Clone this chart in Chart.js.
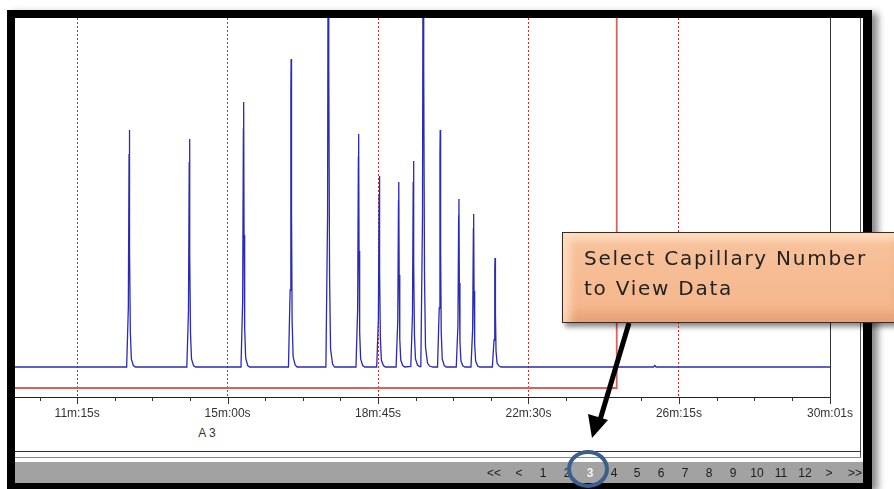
<!DOCTYPE html>
<html lang="en">
<head>
  <meta charset="UTF-8">
  <title>Capillary trace</title>
  <script src="https://cdn.jsdelivr.net/npm/chart.js@4.4.1/dist/chart.umd.min.js"></script>
  <style>
    body { margin: 0; width: 894px; height: 489px; overflow: hidden; position: relative; background: #fff; font-family: 'Liberation Sans', sans-serif; }
    #frame { position: absolute; left: 7px; top: 10px; width: 865px; height: 479px; background: #000; box-shadow: 6px 3px 7px rgba(0,0,0,0.45); }
    #panel { position: absolute; left: 15px; top: 18px; width: 848px; height: 444px; background: #fff; }
    #panelEdge { position: absolute; left: 860px; top: 18px; width: 1px; height: 440px; background: #555; }
    #line1 { position: absolute; left: 15px; top: 451px; width: 846px; height: 1px; background: #333; }
    #line2 { position: absolute; left: 15px; top: 457px; width: 846px; height: 1px; background: #888; }
    #pager { position: absolute; left: 15px; top: 462px; width: 848px; height: 21px; background: #a2a2a2; }
    .pg { position: absolute; top: 464px; font-size: 12px; color: #1c1c1c; transform: translateX(-50%); line-height: 18px; }
    #cap { position: absolute; left: 207px; top: 426px; font-size: 12px; color: #333; transform: translateX(-50%); }
    canvas { position: absolute; left: 0; top: 0; }
    #callout { position: absolute; left: 562px; top: 232px; width: 345px; height: 89px; border: 1px solid #3b2a20;
      background: linear-gradient(180deg, #f8c39c 0%, #f4b48a 100%);
      box-shadow: 3px 4px 5px rgba(0,0,0,0.45), inset 7px 7px 9px rgba(255,230,205,0.75), inset -10px -9px 10px rgba(205,125,75,0.35); }
    #callout div { position: absolute; left: 21px; font-family: 'DejaVu Sans', sans-serif; font-size: 20px; letter-spacing: 1.75px; color: #222; white-space: nowrap; }
    #ring { position: absolute; left: 567px; top: 450px; width: 34px; height: 30px; border: 4px solid #3a5f8d; border-radius: 50%; }
    svg { position: absolute; left: 0; top: 0; }
  </style>
</head>
<body>
  <div id="frame"></div>
  <div id="panel"></div>
  <div id="panelEdge"></div>
  <div id="line1"></div>
  <div id="line2"></div>
  <div id="pager"></div>
  <div id="cap">A 3</div>
  <canvas id="trace" width="894" height="489"></canvas>
  <div id="pages"></div>
  <div id="ring"></div>
  <svg width="894" height="489">
    <line x1="629" y1="323" x2="600" y2="420" stroke="#000" stroke-width="5"/>
    <polygon points="592,438 588,414 608,420" fill="#000"/>
  </svg>
  <div id="callout">
    <div style="top:13px">Select Capillary Number</div>
    <div style="top:43px">to View Data</div>
  </div>

  <script>
    // run time in seconds, signal in arbitrary units (baseline = 0)
    const traceTime = [582,
      749, 751.5, 752.6, 753, 753.6, 754.5, 756, 759, 762,
      839, 841.5, 842.6, 843, 843.6, 844.5, 846, 849, 852,
      920, 922.5, 923.6, 924, 924.6, 925.5, 927, 930, 933,
      991, 993.5, 994.6, 995, 995.6, 996.5, 998, 1001, 1004,
      1047, 1049.5, 1050.6, 1051, 1051.6, 1052.5, 1054, 1057, 1060,
      1092, 1094.5, 1095.6, 1096, 1096.6, 1097.5, 1099, 1102, 1105,
      1123, 1125.5, 1126.6, 1127, 1127.6, 1128.5, 1130, 1133, 1136,
      1152, 1154.5, 1155.6, 1156, 1156.6, 1157.5, 1159, 1162, 1165,
      1174, 1176.5, 1177.6, 1178, 1178.6, 1179.5, 1181, 1184, 1187,
      1189, 1191.5, 1192.6, 1193, 1193.6, 1194.5, 1196, 1199, 1202, 1207,
      1214, 1216.5, 1217.6, 1218, 1218.6, 1219.5, 1221, 1224, 1227,
      1242, 1244.5, 1245.6, 1246, 1246.6, 1247.5, 1249, 1252, 1255,
      1264, 1266.5, 1267.6, 1268, 1268.6, 1269.5, 1271, 1274, 1277,
      1296, 1298.5, 1299.6, 1300, 1300.6, 1301.5, 1303, 1306, 1309,
      1537, 1539, 1541,
      1801];
    const traceSignal = [0,
      0, 590, 2130, 2370, 1180, 350, 80, 15, 0,
      0, 570, 2050, 2280, 1140, 340, 80, 15, 0,
      0, 660, 2380, 2650, 1320, 400, 90, 15, 0,
      0, 770, 2770, 3080, 1540, 460, 100, 20, 0,
      0, 1500, 5400, 6000, 3000, 900, 180, 30, 0,
      0, 580, 2100, 2330, 1160, 350, 80, 15, 0,
      0, 480, 1720, 1910, 950, 290, 70, 15, 0,
      0, 460, 1660, 1850, 920, 280, 70, 15, 0,
      5, 520, 1850, 2060, 1030, 310, 80, 20, 5,
      5, 1500, 5400, 6000, 3000, 900, 200, 40, 10, 0,
      0, 590, 2130, 2370, 1180, 350, 80, 15, 0,
      0, 420, 1510, 1680, 840, 250, 60, 10, 0,
      0, 380, 1380, 1530, 760, 230, 60, 10, 0,
      0, 270, 980, 1090, 540, 160, 40, 10, 0,
      0, 15, 0,
      0];

    // red window marker
    const windowTime = [582, 1482, 1482];
    const windowSignal = [-210, -210, 4000];

    const majorTicks = [675, 900, 1125, 1350, 1575, 1801];
    const tickLabels = ['11m:15s', '15m:00s', '18m:45s', '22m:30s', '26m:15s', '30m:01s'];
    const minorTicks = [618.75, 731.25, 787.5, 843.75, 956.25, 1012.5, 1068.75, 1181.25, 1237.5,
      1293.75, 1406.25, 1462.5, 1518.75, 1631.25, 1687.5, 1743.75];

    const pageLabels = ['<<', '<', '1', '2', '3', '4', '5', '6', '7', '8', '9', '10', '11', '12', '>', '>>'];
    const pageX = [494, 519, 543, 567, 590, 614, 637, 661, 685, 709, 733, 757, 781, 805, 829, 855];
    const currentPage = '3';

    const pages = document.getElementById('pages');
    pageLabels.forEach((p, i) => {
      const s = document.createElement('span');
      s.className = 'pg';
      s.textContent = p;
      s.style.left = pageX[i] + 'px';
      if (p === currentPage) { s.style.color = '#f4f4f4'; s.style.fontWeight = 'bold'; }
      pages.appendChild(s);
    });

    const axisMarks = {
      id: 'axisMarks',
      afterDraw(chart) {
        const { ctx, chartArea, scales: { x } } = chart;
        ctx.save();
        ctx.strokeStyle = '#333';
        ctx.lineWidth = 1;
        ctx.beginPath();
        minorTicks.forEach(v => {
          const px = Math.round(x.getPixelForValue(v)) + 0.5;
          ctx.moveTo(px, chartArea.bottom);
          ctx.lineTo(px, chartArea.bottom + 4);
        });
        majorTicks.forEach(v => {
          const px = Math.round(x.getPixelForValue(v)) + 0.5;
          ctx.moveTo(px, chartArea.bottom);
          ctx.lineTo(px, chartArea.bottom + 7);
        });
        const rx = Math.round(chartArea.right) + 0.5;
        ctx.moveTo(rx, chartArea.top);
        ctx.lineTo(rx, chartArea.bottom);
        ctx.stroke();
        ctx.restore();
      }
    };

    const ctx = document.getElementById('trace').getContext('2d');
    const traceChart = new Chart(ctx, {
      type: 'line',
      data: {
        datasets: [{
          label: 'A 3',
          data: traceTime.map((t, i) => ({ x: t, y: traceSignal[i] })),
          borderColor: '#2a2ab5',
          borderWidth: 1.3,
          pointRadius: 0,
          tension: 0,
          order: 1
        }, {
          label: 'window',
          data: windowTime.map((t, i) => ({ x: t, y: windowSignal[i] })),
          borderColor: '#d4655c',
          borderWidth: 1.8,
          pointRadius: 0,
          tension: 0,
          order: 2
        }]
      },
      options: {
        responsive: false,
        animation: false,
        layout: { padding: { left: 15, top: 18, right: 64, bottom: 0 } },
        plugins: { legend: { display: false }, tooltip: { enabled: false } },
        scales: {
          x: {
            type: 'linear',
            min: 582,
            max: 1801,
            afterBuildTicks: s => { s.ticks = majorTicks.map(v => ({ value: v })); },
            afterFit: s => { s.height = 92; },
            grid: {
              color: c => c.index === majorTicks.length - 1 ? 'rgba(0,0,0,0)' : '#d22b2b',
              lineWidth: 1,
              drawTicks: false
            },
            border: { display: true, color: '#222', width: 1, dash: [2, 2] },
            ticks: {
              padding: 9,
              color: '#333',
              autoSkip: false,
              maxRotation: 0,
              font: { family: 'Liberation Sans', size: 12 },
              callback: (v, i) => tickLabels[i]
            }
          },
          y: {
            display: false,
            min: -300,
            max: 3490
          }
        }
      },
      plugins: [axisMarks]
    });
  </script>
</body>
</html>
